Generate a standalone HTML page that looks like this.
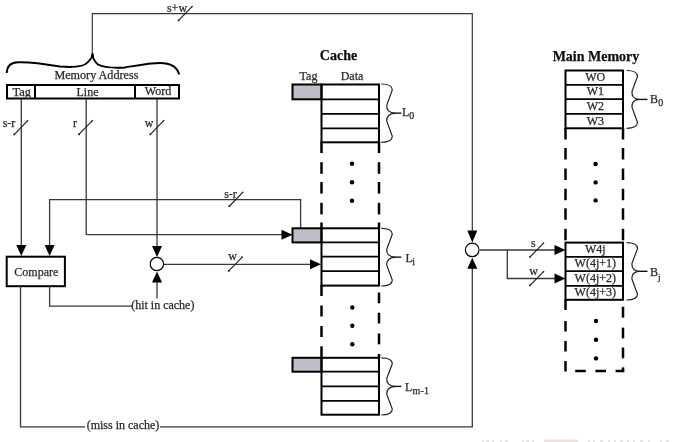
<!DOCTYPE html>
<html><head><meta charset="utf-8"><style>
html,body{margin:0;padding:0;background:#fff;}
svg{display:block;font-family:"Liberation Serif",serif;filter:blur(0.5px);}
</style></head><body>
<svg width="674" height="442" viewBox="0 0 674 442">
<rect width="674" height="442" fill="#fff"/>
<polyline points="92.3,56 92.3,13.6 472.3,13.6 472.3,232" fill="none" stroke="#383838" stroke-width="1.2" stroke-linejoin="miter"/>
<polygon points="472.3,242.5 467.3,230.5 477.3,230.5" fill="#000"/>
<line x1="178.3" y1="20.7" x2="192.3" y2="6.3" stroke="#222" stroke-width="1.2"/>
<circle cx="178.60000000000002" cy="20.4" r="0.95" fill="#222"/>
<circle cx="192.0" cy="6.6" r="0.8" fill="#333"/>
<text x="177" y="11.5" font-size="12" text-anchor="middle" font-weight="normal" fill="#2a2a2a" stroke="#2a2a2a" stroke-width="0.25" >s+w</text>
<path d="M6.7,73 C7,66 11,62.5 18,62.3 C30,61.8 45,64 60,66.5 C72,67.5 84,67 88,62 C91,59 92.3,57 92.5,54.5 C92.7,57 94,61 98,64.5 C104,68 115,68 125,67.5 C140,65 150,63 160,63 C170,63 177,66.5 179.2,74.5" fill="none" stroke="#000" stroke-width="1.9"/>
<ellipse cx="92.5" cy="55.5" rx="1.3" ry="2.8" fill="#000"/>
<text x="96.4" y="79.1" font-size="12.15" text-anchor="middle" font-weight="normal" fill="#2a2a2a" stroke="#2a2a2a" stroke-width="0.25" >Memory Address</text>
<rect x="7" y="85" width="172" height="13.5" fill="none" stroke="#000" stroke-width="2"/>
<line x1="35" y1="85" x2="35" y2="98.5" stroke="#000" stroke-width="2"/>
<line x1="135" y1="85" x2="135" y2="98.5" stroke="#000" stroke-width="2"/>
<text x="21.8" y="95.5" font-size="12.5" text-anchor="middle" font-weight="normal" fill="#2a2a2a" stroke="#2a2a2a" stroke-width="0.25" >Tag</text>
<text x="87.5" y="95.5" font-size="12" text-anchor="middle" font-weight="normal" fill="#2a2a2a" stroke="#2a2a2a" stroke-width="0.25" >Line</text>
<text x="158" y="95.3" font-size="12" text-anchor="middle" font-weight="normal" fill="#2a2a2a" stroke="#2a2a2a" stroke-width="0.25" >Word</text>
<line x1="21.3" y1="99" x2="21.3" y2="245" stroke="#383838" stroke-width="1.3"/>
<polygon points="21.3,256 16.3,245 26.3,245" fill="#000"/>
<line x1="86.2" y1="99" x2="86.2" y2="235" stroke="#383838" stroke-width="1.3"/>
<line x1="157" y1="99" x2="157" y2="246" stroke="#383838" stroke-width="1.3"/>
<polygon points="157,257 152.0,246 162.0,246" fill="#000"/>
<line x1="13.899999999999999" y1="134.79999999999998" x2="27.9" y2="120.39999999999999" stroke="#222" stroke-width="1.2"/>
<circle cx="14.2" cy="134.49999999999997" r="0.95" fill="#222"/>
<circle cx="27.599999999999998" cy="120.69999999999999" r="0.8" fill="#333"/>
<text x="9" y="127" font-size="12" text-anchor="middle" font-weight="normal" fill="#2a2a2a" stroke="#2a2a2a" stroke-width="0.25" >s-r</text>
<line x1="78.6" y1="134.7" x2="92.6" y2="120.3" stroke="#222" stroke-width="1.2"/>
<circle cx="78.89999999999999" cy="134.39999999999998" r="0.95" fill="#222"/>
<circle cx="92.3" cy="120.6" r="0.8" fill="#333"/>
<text x="75" y="127" font-size="12" text-anchor="middle" font-weight="normal" fill="#2a2a2a" stroke="#2a2a2a" stroke-width="0.25" >r</text>
<line x1="150" y1="134.7" x2="164" y2="120.3" stroke="#222" stroke-width="1.2"/>
<circle cx="150.3" cy="134.39999999999998" r="0.95" fill="#222"/>
<circle cx="163.7" cy="120.6" r="0.8" fill="#333"/>
<text x="149" y="127" font-size="12" text-anchor="middle" font-weight="normal" fill="#2a2a2a" stroke="#2a2a2a" stroke-width="0.25" >w</text>
<polyline points="86.2,234.7 282,234.7" fill="none" stroke="#383838" stroke-width="1.3" stroke-linejoin="miter"/>
<polygon points="292.5,234.7 281.5,229.7 281.5,239.7" fill="#000"/>
<polyline points="300.6,228 300.6,199.6 49.6,199.6 49.6,246" fill="none" stroke="#383838" stroke-width="1.3" stroke-linejoin="miter"/>
<polygon points="49.6,256 44.6,245 54.6,245" fill="#000"/>
<line x1="229" y1="206.5" x2="243" y2="192.10000000000002" stroke="#222" stroke-width="1.2"/>
<circle cx="229.3" cy="206.2" r="0.95" fill="#222"/>
<circle cx="242.7" cy="192.40000000000003" r="0.8" fill="#333"/>
<text x="230.5" y="197.5" font-size="12" text-anchor="middle" font-weight="normal" fill="#2a2a2a" stroke="#2a2a2a" stroke-width="0.25" >s-r</text>
<rect x="6.7" y="256.7" width="58.2" height="29.5" fill="none" stroke="#000" stroke-width="2"/>
<text x="36.3" y="276" font-size="12" text-anchor="middle" font-weight="normal" fill="#2a2a2a" stroke="#2a2a2a" stroke-width="0.25" >Compare</text>
<circle cx="156.9" cy="264" r="6.7" fill="#fff" stroke="#000" stroke-width="1.2"/>
<line x1="164" y1="264.3" x2="311" y2="264.3" stroke="#383838" stroke-width="1.3"/>
<polygon points="321,264.3 310,259.3 310,269.3" fill="#000"/>
<line x1="228.5" y1="271.2" x2="242.5" y2="256.8" stroke="#222" stroke-width="1.2"/>
<circle cx="228.8" cy="270.9" r="0.95" fill="#222"/>
<circle cx="242.2" cy="257.1" r="0.8" fill="#333"/>
<text x="232.7" y="260.3" font-size="12" text-anchor="middle" font-weight="normal" fill="#2a2a2a" stroke="#2a2a2a" stroke-width="0.25" >w</text>
<polyline points="49.6,286 49.6,306.1 132,306.1" fill="none" stroke="#383838" stroke-width="1.3" stroke-linejoin="miter"/>
<line x1="157" y1="298.5" x2="157" y2="282" stroke="#383838" stroke-width="1.3"/>
<polygon points="157,271.5 152.0,282.5 162.0,282.5" fill="#000"/>
<text x="162.8" y="308.7" font-size="12" text-anchor="middle" font-weight="normal" fill="#2a2a2a" stroke="#2a2a2a" stroke-width="0.25" >(hit in cache)</text>
<polyline points="20.5,286 20.5,426.9 85,426.9" fill="none" stroke="#383838" stroke-width="1.3" stroke-linejoin="miter"/>
<text x="123" y="429.4" font-size="12" text-anchor="middle" font-weight="normal" fill="#2a2a2a" stroke="#2a2a2a" stroke-width="0.25" >(miss in cache)</text>
<polyline points="160,426.9 472.3,426.9 472.3,268" fill="none" stroke="#383838" stroke-width="1.3" stroke-linejoin="miter"/>
<polygon points="472.3,257.7 467.3,268.7 477.3,268.7" fill="#000"/>
<circle cx="472.2" cy="249.9" r="6.8" fill="#fff" stroke="#000" stroke-width="1.2"/>
<line x1="480" y1="250" x2="555" y2="250" stroke="#383838" stroke-width="1.3"/>
<polygon points="565.5,250 554.5,245.0 554.5,255.0" fill="#000"/>
<polyline points="507.3,250 507.3,278.5 555,278.5" fill="none" stroke="#383838" stroke-width="1.3" stroke-linejoin="miter"/>
<polygon points="565.5,278.5 554.5,273.5 554.5,283.5" fill="#000"/>
<line x1="529.8" y1="257.2" x2="543.8" y2="242.8" stroke="#222" stroke-width="1.2"/>
<circle cx="530.0999999999999" cy="256.9" r="0.95" fill="#222"/>
<circle cx="543.5" cy="243.10000000000002" r="0.8" fill="#333"/>
<text x="533.4" y="246.5" font-size="12" text-anchor="middle" font-weight="normal" fill="#2a2a2a" stroke="#2a2a2a" stroke-width="0.25" >s</text>
<line x1="529.8" y1="285.7" x2="543.8" y2="271.3" stroke="#222" stroke-width="1.2"/>
<circle cx="530.0999999999999" cy="285.4" r="0.95" fill="#222"/>
<circle cx="543.5" cy="271.6" r="0.8" fill="#333"/>
<text x="533.5" y="274.6" font-size="12" text-anchor="middle" font-weight="normal" fill="#2a2a2a" stroke="#2a2a2a" stroke-width="0.25" >w</text>
<text x="338.5" y="59.8" font-size="14" text-anchor="middle" font-weight="bold" fill="#111" stroke="#111" stroke-width="0.25" >Cache</text>
<text x="308.5" y="80" font-size="12" text-anchor="middle" font-weight="normal" fill="#2a2a2a" stroke="#2a2a2a" stroke-width="0.25" >Tag</text>
<text x="352" y="80" font-size="12" text-anchor="middle" font-weight="normal" fill="#2a2a2a" stroke="#2a2a2a" stroke-width="0.25" >Data</text>
<rect x="292.5" y="84.5" width="29" height="14.799999999999997" fill="#bebec8" stroke="#000" stroke-width="2"/>
<rect x="321.5" y="84.5" width="57.5" height="57.80000000000001" fill="none" stroke="#000" stroke-width="2"/>
<line x1="321.5" y1="99.3" x2="379" y2="99.3" stroke="#000" stroke-width="1.8"/>
<line x1="321.5" y1="113.9" x2="379" y2="113.9" stroke="#000" stroke-width="1.8"/>
<line x1="321.5" y1="128.4" x2="379" y2="128.4" stroke="#000" stroke-width="1.8"/>
<rect x="292.5" y="228.3" width="29" height="14.099999999999994" fill="#bebec8" stroke="#000" stroke-width="2"/>
<rect x="321.5" y="228.3" width="57.5" height="57.30000000000001" fill="none" stroke="#000" stroke-width="2"/>
<line x1="321.5" y1="242.4" x2="379" y2="242.4" stroke="#000" stroke-width="1.8"/>
<line x1="321.5" y1="256.7" x2="379" y2="256.7" stroke="#000" stroke-width="1.8"/>
<line x1="321.5" y1="271.2" x2="379" y2="271.2" stroke="#000" stroke-width="1.8"/>
<rect x="292.5" y="357.8" width="29" height="13.899999999999977" fill="#bebec8" stroke="#000" stroke-width="2"/>
<rect x="321.5" y="357.8" width="57.5" height="56.89999999999998" fill="none" stroke="#000" stroke-width="2"/>
<line x1="321.5" y1="371.7" x2="379" y2="371.7" stroke="#000" stroke-width="1.8"/>
<line x1="321.5" y1="386.3" x2="379" y2="386.3" stroke="#000" stroke-width="1.8"/>
<line x1="321.5" y1="400.9" x2="379" y2="400.9" stroke="#000" stroke-width="1.8"/>
<line x1="321.5" y1="141.5" x2="321.5" y2="153.1" stroke="#000" stroke-width="2.5"/>
<line x1="321.5" y1="162.2" x2="321.5" y2="173.79999999999998" stroke="#000" stroke-width="2.5"/>
<line x1="321.5" y1="182" x2="321.5" y2="193.6" stroke="#000" stroke-width="2.5"/>
<line x1="321.5" y1="202.8" x2="321.5" y2="214.4" stroke="#000" stroke-width="2.5"/>
<line x1="321.5" y1="222.5" x2="321.5" y2="228.5" stroke="#000" stroke-width="2.5"/>
<line x1="379" y1="141.5" x2="379" y2="153.1" stroke="#000" stroke-width="2.5"/>
<line x1="379" y1="162.2" x2="379" y2="173.79999999999998" stroke="#000" stroke-width="2.5"/>
<line x1="379" y1="182" x2="379" y2="193.6" stroke="#000" stroke-width="2.5"/>
<line x1="379" y1="202.8" x2="379" y2="214.4" stroke="#000" stroke-width="2.5"/>
<line x1="379" y1="222.5" x2="379" y2="228.5" stroke="#000" stroke-width="2.5"/>
<line x1="321.5" y1="285" x2="321.5" y2="296" stroke="#000" stroke-width="2.5"/>
<line x1="321.5" y1="305.5" x2="321.5" y2="316.5" stroke="#000" stroke-width="2.5"/>
<line x1="321.5" y1="326" x2="321.5" y2="337" stroke="#000" stroke-width="2.5"/>
<line x1="321.5" y1="346.3" x2="321.5" y2="357.3" stroke="#000" stroke-width="2.5"/>
<line x1="379" y1="292.5" x2="379" y2="303.3" stroke="#000" stroke-width="2.5"/>
<line x1="379" y1="312.7" x2="379" y2="323.5" stroke="#000" stroke-width="2.5"/>
<line x1="379" y1="333.5" x2="379" y2="344.3" stroke="#000" stroke-width="2.5"/>
<line x1="379" y1="354" x2="379" y2="358" stroke="#000" stroke-width="2.5"/>
<circle cx="352" cy="163.8" r="2.2" fill="#000"/>
<circle cx="352" cy="182.3" r="2.2" fill="#000"/>
<circle cx="352" cy="200.8" r="2.2" fill="#000"/>
<circle cx="352.3" cy="307.5" r="2.2" fill="#000"/>
<circle cx="352.3" cy="325.8" r="2.2" fill="#000"/>
<circle cx="352.3" cy="344.2" r="2.2" fill="#000"/>
<path d="M381.3,84 C387.3,84 392.3,85 392.3,90 L386.8,105.15 C386.3,110.15 389.3,112.65 395.3,113.15 C389.3,113.65 386.3,116.15 386.8,121.15 L392.3,136.3 C392.3,141.3 387.3,142.3 381.3,142.3" fill="none" stroke="#222" stroke-width="1.2"/>
<line x1="394.3" y1="113.15" x2="401.3" y2="113.15" stroke="#111" stroke-width="1.4"/>
<text x="402" y="115.6" font-size="12" text-anchor="start" font-weight="normal" fill="#2a2a2a" stroke="#2a2a2a" stroke-width="0.25" >L</text>
<text x="409.3" y="119" font-size="10" text-anchor="start" font-weight="normal" fill="#2a2a2a" stroke="#2a2a2a" stroke-width="0.25" >0</text>
<path d="M381.3,228.3 C387.3,228.3 392.3,229.3 392.3,234.3 L386.8,249.14999999999998 C386.3,254.14999999999998 389.3,256.65 395.3,257.15 C389.3,257.65 386.3,260.15 386.8,265.15 L392.3,280 C392.3,285 387.3,286 381.3,286" fill="none" stroke="#222" stroke-width="1.2"/>
<line x1="394.3" y1="257.15" x2="401.3" y2="257.15" stroke="#111" stroke-width="1.4"/>
<text x="405.5" y="261.5" font-size="12" text-anchor="start" font-weight="normal" fill="#2a2a2a" stroke="#2a2a2a" stroke-width="0.25" >L</text>
<text x="412.2" y="264.5" font-size="10" text-anchor="start" font-weight="normal" fill="#2a2a2a" stroke="#2a2a2a" stroke-width="0.25" >i</text>
<path d="M381.3,357.8 C387.3,357.8 392.3,358.8 392.3,363.8 L386.8,378.4 C386.3,383.4 389.3,385.9 395.3,386.4 C389.3,386.9 386.3,389.4 386.8,394.4 L392.3,409 C392.3,414 387.3,415 381.3,415" fill="none" stroke="#222" stroke-width="1.2"/>
<line x1="394.3" y1="386.4" x2="401.3" y2="386.4" stroke="#111" stroke-width="1.4"/>
<text x="405" y="390.5" font-size="12" text-anchor="start" font-weight="normal" fill="#2a2a2a" stroke="#2a2a2a" stroke-width="0.25" >L</text>
<text x="412.4" y="393.6" font-size="10" text-anchor="start" font-weight="normal" fill="#2a2a2a" stroke="#2a2a2a" stroke-width="0.25" letter-spacing="0.3">m-1</text>
<text x="596" y="61" font-size="14" text-anchor="middle" font-weight="bold" fill="#111" stroke="#111" stroke-width="0.25" >Main Memory</text>
<rect x="565.5" y="70.5" width="57.5" height="57.80000000000001" fill="none" stroke="#000" stroke-width="2"/>
<line x1="565.5" y1="84.8" x2="623" y2="84.8" stroke="#000" stroke-width="1.8"/>
<line x1="565.5" y1="99.2" x2="623" y2="99.2" stroke="#000" stroke-width="1.8"/>
<line x1="565.5" y1="113.9" x2="623" y2="113.9" stroke="#000" stroke-width="1.8"/>
<text x="595.3" y="81.0" font-size="12" text-anchor="middle" font-weight="normal" fill="#2a2a2a" stroke="#2a2a2a" stroke-width="0.25" >WO</text>
<text x="595.3" y="95.4" font-size="12" text-anchor="middle" font-weight="normal" fill="#2a2a2a" stroke="#2a2a2a" stroke-width="0.25" >W1</text>
<text x="595.3" y="110.10000000000001" font-size="12" text-anchor="middle" font-weight="normal" fill="#2a2a2a" stroke="#2a2a2a" stroke-width="0.25" >W2</text>
<text x="595.3" y="124.50000000000001" font-size="12" text-anchor="middle" font-weight="normal" fill="#2a2a2a" stroke="#2a2a2a" stroke-width="0.25" >W3</text>
<rect x="565.5" y="242.6" width="57.5" height="57.20000000000002" fill="none" stroke="#000" stroke-width="2"/>
<line x1="565.5" y1="256.8" x2="623" y2="256.8" stroke="#000" stroke-width="1.8"/>
<line x1="565.5" y1="271.2" x2="623" y2="271.2" stroke="#000" stroke-width="1.8"/>
<line x1="565.5" y1="285.8" x2="623" y2="285.8" stroke="#000" stroke-width="1.8"/>
<text x="595.3" y="253.0" font-size="12" text-anchor="middle" font-weight="normal" fill="#2a2a2a" stroke="#2a2a2a" stroke-width="0.25" >W4j</text>
<text x="595.3" y="267.4" font-size="12" text-anchor="middle" font-weight="normal" fill="#2a2a2a" stroke="#2a2a2a" stroke-width="0.25" >W(4j+1)</text>
<text x="595.3" y="282.0" font-size="12" text-anchor="middle" font-weight="normal" fill="#2a2a2a" stroke="#2a2a2a" stroke-width="0.25" >W(4j+2)</text>
<text x="595.3" y="296.0" font-size="12" text-anchor="middle" font-weight="normal" fill="#2a2a2a" stroke="#2a2a2a" stroke-width="0.25" >W(4j+3)</text>
<line x1="565.5" y1="128" x2="565.5" y2="139.5" stroke="#000" stroke-width="2.5"/>
<line x1="565.5" y1="148" x2="565.5" y2="159.5" stroke="#000" stroke-width="2.5"/>
<line x1="565.5" y1="168.5" x2="565.5" y2="180.0" stroke="#000" stroke-width="2.5"/>
<line x1="565.5" y1="188.7" x2="565.5" y2="200.2" stroke="#000" stroke-width="2.5"/>
<line x1="565.5" y1="208.3" x2="565.5" y2="219.8" stroke="#000" stroke-width="2.5"/>
<line x1="565.5" y1="228.8" x2="565.5" y2="240.3" stroke="#000" stroke-width="2.5"/>
<line x1="623" y1="128" x2="623" y2="139.5" stroke="#000" stroke-width="2.5"/>
<line x1="623" y1="148" x2="623" y2="159.5" stroke="#000" stroke-width="2.5"/>
<line x1="623" y1="168.5" x2="623" y2="180.0" stroke="#000" stroke-width="2.5"/>
<line x1="623" y1="188.7" x2="623" y2="200.2" stroke="#000" stroke-width="2.5"/>
<line x1="623" y1="208.3" x2="623" y2="219.8" stroke="#000" stroke-width="2.5"/>
<line x1="623" y1="228.8" x2="623" y2="240.3" stroke="#000" stroke-width="2.5"/>
<line x1="565.5" y1="299.5" x2="565.5" y2="310.0" stroke="#000" stroke-width="2.5"/>
<line x1="565.5" y1="321" x2="565.5" y2="331.5" stroke="#000" stroke-width="2.5"/>
<line x1="565.5" y1="341" x2="565.5" y2="351.5" stroke="#000" stroke-width="2.5"/>
<line x1="565.5" y1="361" x2="565.5" y2="371.5" stroke="#000" stroke-width="2.5"/>
<line x1="623" y1="306.8" x2="623" y2="317.6" stroke="#000" stroke-width="2.5"/>
<line x1="623" y1="327.6" x2="623" y2="338.40000000000003" stroke="#000" stroke-width="2.5"/>
<line x1="623" y1="347.5" x2="623" y2="358.3" stroke="#000" stroke-width="2.5"/>
<line x1="623" y1="367.4" x2="623" y2="372" stroke="#000" stroke-width="2.5"/>
<line x1="575.2" y1="371" x2="585.8000000000001" y2="371" stroke="#000" stroke-width="2.5"/>
<line x1="595.4" y1="371" x2="606.0" y2="371" stroke="#000" stroke-width="2.5"/>
<line x1="615.6" y1="371" x2="624.2" y2="371" stroke="#000" stroke-width="2.5"/>
<circle cx="595.6" cy="164" r="2.2" fill="#000"/>
<circle cx="595.6" cy="182.4" r="2.2" fill="#000"/>
<circle cx="595.6" cy="200.4" r="2.2" fill="#000"/>
<circle cx="596" cy="321" r="2.2" fill="#000"/>
<circle cx="596" cy="339.7" r="2.2" fill="#000"/>
<circle cx="596" cy="358.4" r="2.2" fill="#000"/>
<path d="M626.5,70.5 C632.5,70.5 637.5,71.5 637.5,76.5 L632.0,91.4 C631.5,96.4 634.5,98.9 638.5,99.4 C634.5,99.9 631.5,102.4 632.0,107.4 L637.5,122.30000000000001 C637.5,127.30000000000001 632.5,128.3 626.5,128.3" fill="none" stroke="#222" stroke-width="1.2"/>
<line x1="637.5" y1="99.4" x2="647.5" y2="99.4" stroke="#111" stroke-width="1.4"/>
<text x="650" y="103.3" font-size="12" text-anchor="start" font-weight="normal" fill="#2a2a2a" stroke="#2a2a2a" stroke-width="0.25" >B</text>
<text x="658.3" y="106.2" font-size="10" text-anchor="start" font-weight="normal" fill="#2a2a2a" stroke="#2a2a2a" stroke-width="0.25" >0</text>
<path d="M626.5,242.6 C632.5,242.6 637.5,243.6 637.5,248.6 L632.0,263.3 C631.5,268.3 634.5,270.8 638.5,271.3 C634.5,271.8 631.5,274.3 632.0,279.3 L637.5,294 C637.5,299 632.5,300 626.5,300" fill="none" stroke="#222" stroke-width="1.2"/>
<line x1="637.5" y1="271.3" x2="647.5" y2="271.3" stroke="#111" stroke-width="1.4"/>
<text x="650" y="276" font-size="12" text-anchor="start" font-weight="normal" fill="#2a2a2a" stroke="#2a2a2a" stroke-width="0.25" >B</text>
<text x="658" y="279.5" font-size="9" text-anchor="start" font-weight="normal" fill="#2a2a2a" stroke="#2a2a2a" stroke-width="0.25" >j</text>
<rect x="544" y="439.6" width="34" height="2.4" fill="#f1dede"/>
<rect x="482" y="440.2" width="2" height="1.8" fill="#e4e4e4"/>
<rect x="486" y="440.2" width="3" height="1.8" fill="#e4e4e4"/>
<rect x="492" y="440.2" width="2" height="1.8" fill="#e4e4e4"/>
<rect x="500" y="440.2" width="2" height="1.8" fill="#e4e4e4"/>
<rect x="505" y="440.2" width="3" height="1.8" fill="#e4e4e4"/>
<rect x="522" y="440.2" width="2" height="1.8" fill="#e4e4e4"/>
<rect x="526" y="440.2" width="3" height="1.8" fill="#e4e4e4"/>
<rect x="532" y="440.2" width="2" height="1.8" fill="#e4e4e4"/>
<rect x="588" y="440.2" width="2" height="1.8" fill="#e4e4e4"/>
<rect x="593" y="440.2" width="2" height="1.8" fill="#e4e4e4"/>
<rect x="600" y="440.2" width="3" height="1.8" fill="#e4e4e4"/>
<rect x="608" y="440.2" width="2" height="1.8" fill="#e4e4e4"/>
<rect x="614" y="440.2" width="2" height="1.8" fill="#e4e4e4"/>
<rect x="620" y="440.2" width="3" height="1.8" fill="#e4e4e4"/>
<rect x="627" y="440.2" width="2" height="1.8" fill="#e4e4e4"/>
<rect x="633" y="440.2" width="2" height="1.8" fill="#e4e4e4"/>
<rect x="640" y="440.2" width="3" height="1.8" fill="#e4e4e4"/>
<rect x="648" y="440.2" width="2" height="1.8" fill="#e4e4e4"/>
<rect x="660" y="440.2" width="2" height="1.8" fill="#e4e4e4"/>
<rect x="666" y="440.2" width="3" height="1.8" fill="#e4e4e4"/>
</svg></body></html>
